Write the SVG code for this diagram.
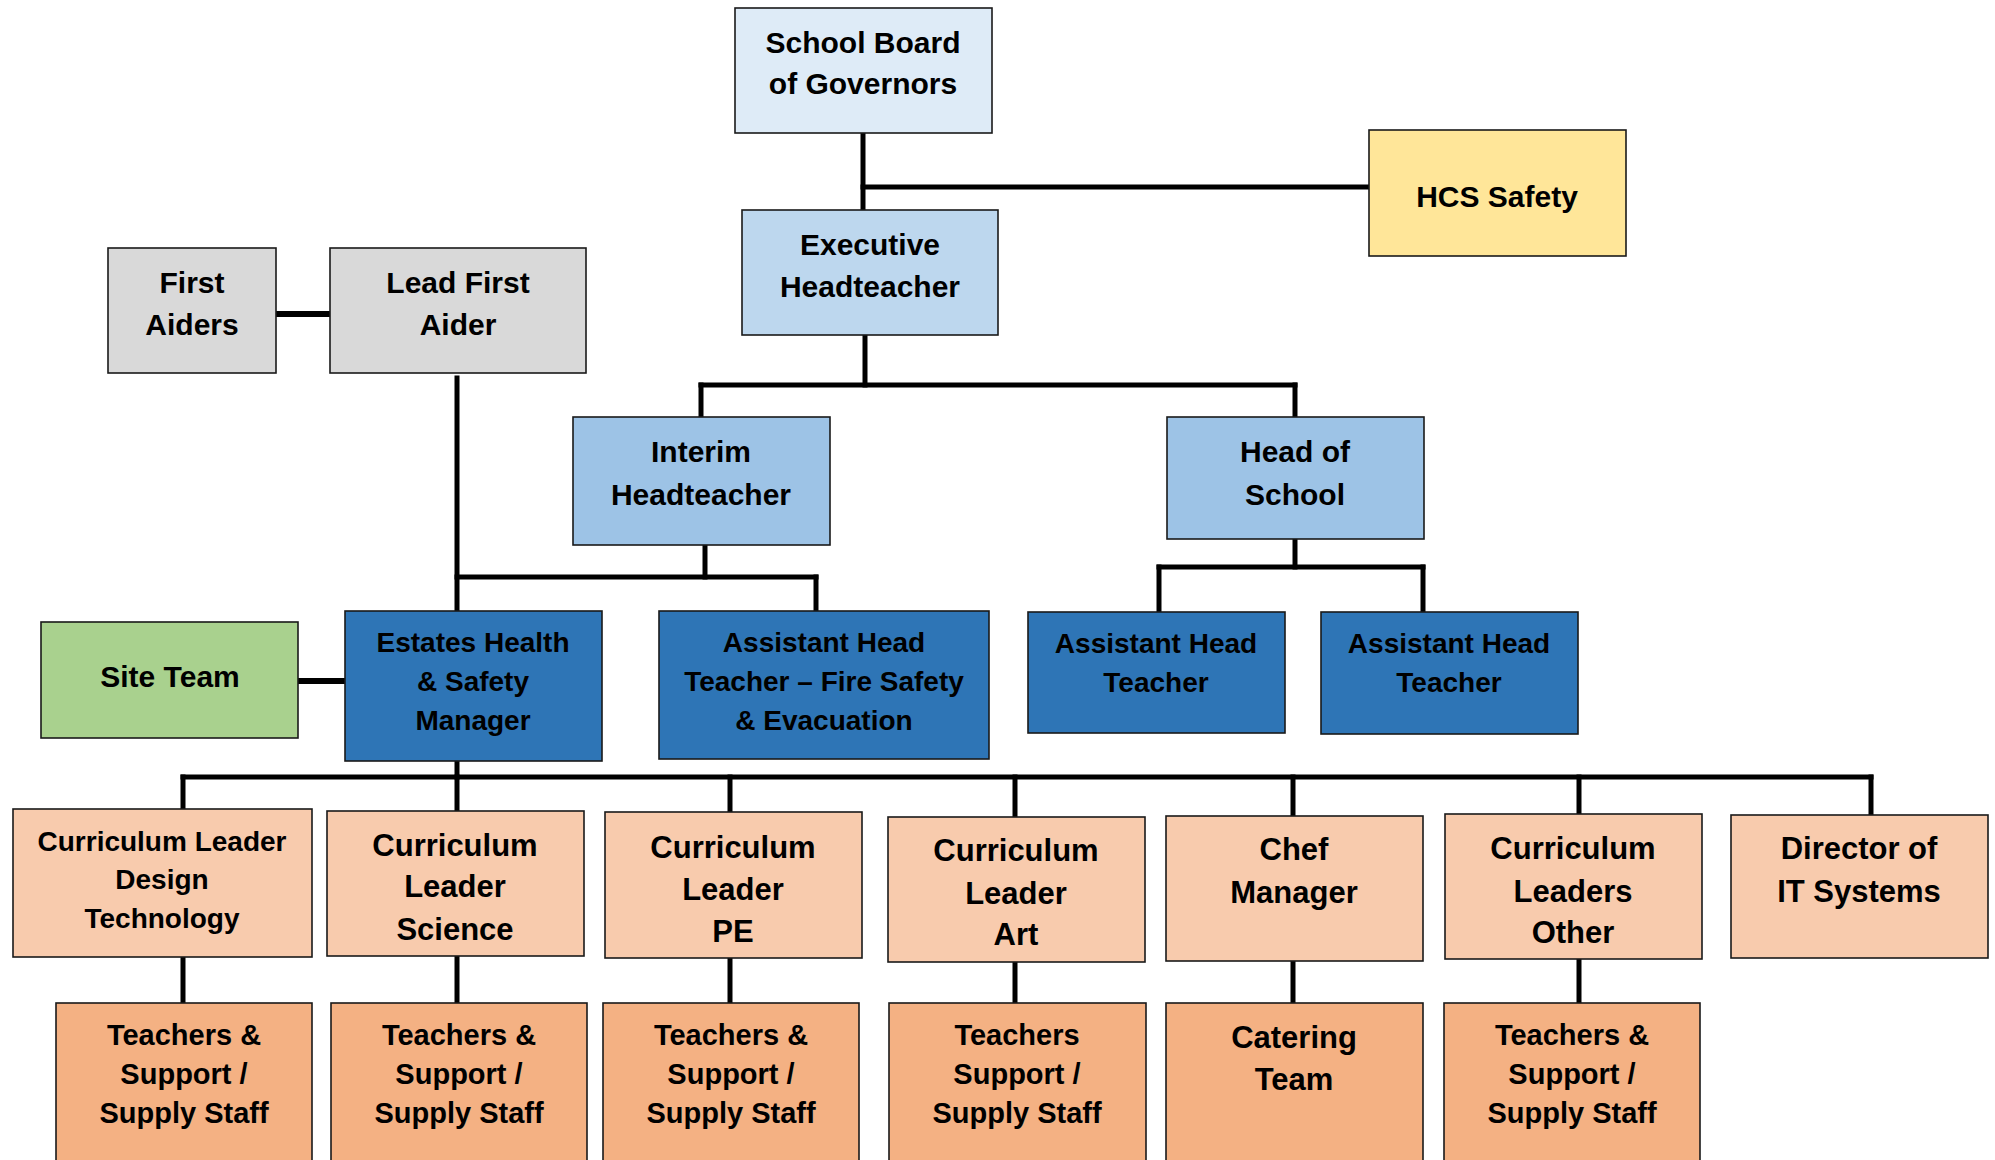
<svg xmlns="http://www.w3.org/2000/svg" width="1995" height="1160" viewBox="0 0 1995 1160">
<style>
.box{stroke:#1a1a1a;stroke-width:1.6}
.c1{fill:#DEEBF7}.c2{fill:#BDD7EE}.c3{fill:#9DC3E6}.c4{fill:#2E75B6}
.hcs{fill:#FFE699}.gry{fill:#D9D9D9}.grn{fill:#A9D18E}.p4{fill:#F8CBAD}.p5{fill:#F4B183}
text{font-family:"Liberation Sans",Arial,sans-serif;font-weight:bold;fill:#000;text-anchor:middle}
.f30{font-size:30px}.f31{font-size:31px}.f28{font-size:28px}.f29{font-size:29px}
.con{stroke:#000;stroke-width:5;fill:none;stroke-linecap:square}
</style>
<rect width="1995" height="1160" fill="#fff"/>
<g id="connectors" class="con">
<path d="M863 133V209"/>
<path d="M863 187H1369"/>
<path d="M865 335V385"/>
<path d="M701 385H1295"/>
<path d="M701 385V417"/>
<path d="M1295 385V417"/>
<path d="M276 314H330" style="stroke-width:6"/>
<path d="M457 378V611"/>
<path d="M457 577H816"/>
<path d="M705 545V577"/>
<path d="M816 577V611"/>
<path d="M1295 539V567"/>
<path d="M1159 567H1423"/>
<path d="M1159 567V612"/>
<path d="M1423 567V612"/>
<path d="M298 681H345" style="stroke-width:6"/>
<path d="M457 761V777"/>
<path d="M183 777H1871"/>
<path d="M183 777V809"/>
<path d="M457 777V811"/>
<path d="M730 777V812"/>
<path d="M1015 777V817"/>
<path d="M1293 777V816"/>
<path d="M1579 777V814"/>
<path d="M1871 777V815"/>
<path d="M183 957V1003"/>
<path d="M457 956V1003"/>
<path d="M730 958V1003"/>
<path d="M1015 962V1003"/>
<path d="M1293 961V1003"/>
<path d="M1579 959V1003"/>
</g>
<g id="board"><rect class="box c1" x="735" y="8" width="257" height="125"/><text class="f30" x="863" y="53">School Board</text><text class="f30" x="863" y="94">of Governors</text></g>
<g id="hcs"><rect class="box hcs" x="1369" y="130" width="257" height="126"/><text class="f30" x="1497" y="207">HCS Safety</text></g>
<g id="exec"><rect class="box c2" x="742" y="210" width="256" height="125"/><text class="f30" x="870" y="255">Executive</text><text class="f30" x="870" y="297">Headteacher</text></g>
<g id="first-aiders"><rect class="box gry" x="108" y="248" width="168" height="125"/><text class="f30" x="192" y="293">First</text><text class="f30" x="192" y="335">Aiders</text></g>
<g id="lead-first-aider"><rect class="box gry" x="330" y="248" width="256" height="125"/><text class="f30" x="458" y="293">Lead First</text><text class="f30" x="458" y="335">Aider</text></g>
<g id="interim"><rect class="box c3" x="573" y="417" width="257" height="128"/><text class="f30" x="701" y="462">Interim</text><text class="f30" x="701" y="505">Headteacher</text></g>
<g id="head-of-school"><rect class="box c3" x="1167" y="417" width="257" height="122"/><text class="f30" x="1295" y="462">Head of</text><text class="f30" x="1295" y="505">School</text></g>
<g id="site-team"><rect class="box grn" x="41" y="622" width="257" height="116"/><text class="f30" x="170" y="687">Site Team</text></g>
<g id="estates"><rect class="box c4" x="345" y="611" width="257" height="150"/><text class="f28" x="473" y="652">Estates Health</text><text class="f28" x="473" y="691">&amp; Safety</text><text class="f28" x="473" y="730">Manager</text></g>
<g id="aht-fire"><rect class="box c4" x="659" y="611" width="330" height="148"/><text class="f28" x="824" y="652">Assistant Head</text><text class="f28" x="824" y="691">Teacher – Fire Safety</text><text class="f28" x="824" y="730">&amp; Evacuation</text></g>
<g id="aht-1"><rect class="box c4" x="1028" y="612" width="257" height="121"/><text class="f28" x="1156" y="653">Assistant Head</text><text class="f28" x="1156" y="692">Teacher</text></g>
<g id="aht-2"><rect class="box c4" x="1321" y="612" width="257" height="122"/><text class="f28" x="1449" y="653">Assistant Head</text><text class="f28" x="1449" y="692">Teacher</text></g>
<g id="cl-dt"><rect class="box p4" x="13" y="809" width="299" height="148"/><text class="f28" x="162" y="851">Curriculum Leader</text><text class="f28" x="162" y="889">Design</text><text class="f28" x="162" y="928">Technology</text></g>
<g id="cl-science"><rect class="box p4" x="327" y="811" width="257" height="145"/><text class="f31" x="455" y="856">Curriculum</text><text class="f31" x="455" y="897">Leader</text><text class="f31" x="455" y="940">Science</text></g>
<g id="cl-pe"><rect class="box p4" x="605" y="812" width="257" height="146"/><text class="f31" x="733" y="858">Curriculum</text><text class="f31" x="733" y="900">Leader</text><text class="f31" x="733" y="942">PE</text></g>
<g id="cl-art"><rect class="box p4" x="888" y="817" width="257" height="145"/><text class="f31" x="1016" y="861">Curriculum</text><text class="f31" x="1016" y="904">Leader</text><text class="f31" x="1016" y="945">Art</text></g>
<g id="chef"><rect class="box p4" x="1166" y="816" width="257" height="145"/><text class="f31" x="1294" y="860">Chef</text><text class="f31" x="1294" y="903">Manager</text></g>
<g id="cl-other"><rect class="box p4" x="1445" y="814" width="257" height="145"/><text class="f31" x="1573" y="859">Curriculum</text><text class="f31" x="1573" y="902">Leaders</text><text class="f31" x="1573" y="943">Other</text></g>
<g id="it"><rect class="box p4" x="1731" y="815" width="257" height="143"/><text class="f31" x="1859" y="859">Director of</text><text class="f31" x="1859" y="902">IT Systems</text></g>
<g id="staff-dt"><rect class="box p5" x="56" y="1003" width="256" height="170"/><text class="f29" x="184" y="1045">Teachers &amp;</text><text class="f29" x="184" y="1084">Support /</text><text class="f29" x="184" y="1123">Supply Staff</text></g>
<g id="staff-science"><rect class="box p5" x="331" y="1003" width="256" height="170"/><text class="f29" x="459" y="1045">Teachers &amp;</text><text class="f29" x="459" y="1084">Support /</text><text class="f29" x="459" y="1123">Supply Staff</text></g>
<g id="staff-pe"><rect class="box p5" x="603" y="1003" width="256" height="170"/><text class="f29" x="731" y="1045">Teachers &amp;</text><text class="f29" x="731" y="1084">Support /</text><text class="f29" x="731" y="1123">Supply Staff</text></g>
<g id="staff-art"><rect class="box p5" x="889" y="1003" width="257" height="170"/><text class="f29" x="1017" y="1045">Teachers</text><text class="f29" x="1017" y="1084">Support /</text><text class="f29" x="1017" y="1123">Supply Staff</text></g>
<g id="catering"><rect class="box p5" x="1166" y="1003" width="257" height="170"/><text class="f31" x="1294" y="1048">Catering</text><text class="f31" x="1294" y="1090">Team</text></g>
<g id="staff-other"><rect class="box p5" x="1444" y="1003" width="256" height="170"/><text class="f29" x="1572" y="1045">Teachers &amp;</text><text class="f29" x="1572" y="1084">Support /</text><text class="f29" x="1572" y="1123">Supply Staff</text></g>
</svg>
